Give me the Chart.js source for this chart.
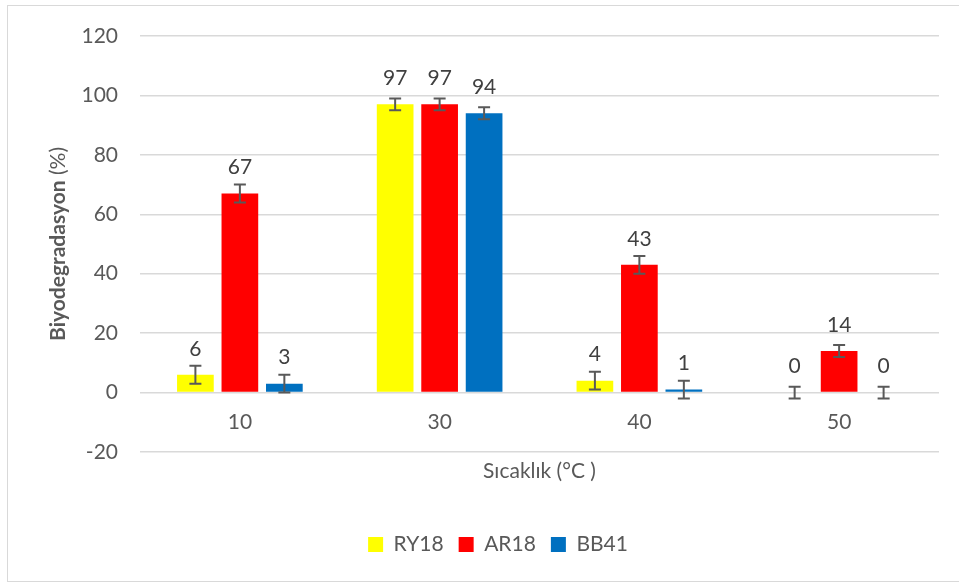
<!DOCTYPE html>
<html>
<head>
<meta charset="utf-8">
<script src="https://cdn.jsdelivr.net/npm/chart.js@4.4.1/dist/chart.umd.min.js"></script>
<style>
    html, body { margin: 0; padding: 0; background: #ffffff; overflow: hidden; }
    #frame { position: absolute; left: 7px; top: 5px; width: 966px; height: 575px; border: 1px solid #d9d9d9; }
</style>
</head>
<body>
<div id="frame"><canvas id="chart" width="966" height="575"></canvas></div>
<script>
const categories = ['10', '30', '40', '50'];
const ry18 = [6, 97, 4, 0];
const ar18 = [67, 97, 43, 14];
const bb41 = [3, 94, 1, 0];
const ry18Err = [3, 2, 3, 2];
const ar18Err = [3, 2, 3, 2];
const bb41Err = [3, 2, 3, 2];
const yMin = -20;
const yMax = 120;
const yStep = 20;
const xTitle = 'Sıcaklık (°C )';
const yTitleBold = 'Biyodegradasyon';
const yTitleRest = ' (%)';

const FONT = 'Lato, "Open Sans", sans-serif';
const SIZE = 21;
const TEXT = '#595959';

// error bars, value labels and category labels (Excel puts those next to the 0 line)
const barExtras = {
    id: 'barExtras',
    afterDatasetsDraw(chart) {
        const { ctx } = chart;
        const x = chart.scales.x;
        const y = chart.scales.y;

        chart.data.datasets.forEach((ds, i) => {
            const meta = chart.getDatasetMeta(i);

            meta.data.forEach((bar, j) => {
                const v = ds.data[j];
                const e = ds.errors[j];
                const top = y.getPixelForValue(v + e);
                const bottom = y.getPixelForValue(v - e);

                ctx.save();
                ctx.strokeStyle = '#595959';
                ctx.lineWidth = 2;
                ctx.beginPath();
                ctx.moveTo(bar.x, top);
                ctx.lineTo(bar.x, bottom);
                ctx.moveTo(bar.x - 6, top);
                ctx.lineTo(bar.x + 6, top);
                ctx.moveTo(bar.x - 6, bottom);
                ctx.lineTo(bar.x + 6, bottom);
                ctx.stroke();

                ctx.fillStyle = '#404040';
                ctx.font = SIZE + 'px ' + FONT;
                ctx.textAlign = 'center';
                ctx.textBaseline = 'middle';
                ctx.fillText(String(v), bar.x, y.getPixelForValue(v) - 26);
                ctx.restore();
            });
        });

        ctx.save();
        ctx.fillStyle = TEXT;
        ctx.font = SIZE + 'px ' + FONT;
        ctx.textAlign = 'center';
        ctx.textBaseline = 'middle';
        categories.forEach((c, i) => {
            ctx.fillText(c, x.getPixelForValue(i), y.getPixelForValue(0) + 30);
        });
        ctx.restore();
    },
};

// y title with bold word + regular "(%)"
const yTitle = {
    id: 'yTitle',
    afterDraw(chart) {
        const { ctx, chartArea } = chart;
        const cy = (chartArea.top + chartArea.bottom) / 2;
        const cx = chartArea.left - 82;

        ctx.save();
        ctx.translate(cx, cy);
        ctx.rotate(-Math.PI / 2);
        ctx.textBaseline = 'middle';
        ctx.textAlign = 'left';
        ctx.fillStyle = TEXT;
        ctx.font = 'bold ' + SIZE + 'px ' + FONT;
        const w1 = ctx.measureText(yTitleBold).width;
        ctx.font = SIZE + 'px ' + FONT;
        const w2 = ctx.measureText(yTitleRest).width;
        const x0 = -(w1 + w2) / 2;
        ctx.font = 'bold ' + SIZE + 'px ' + FONT;
        ctx.fillText(yTitleBold, x0, 0);
        ctx.font = SIZE + 'px ' + FONT;
        ctx.fillText(yTitleRest, x0 + w1, 0);
        ctx.restore();
    },
};

new Chart(document.getElementById('chart'), {
    type: 'bar',
    data: {
        labels: categories,
        datasets: [
            { label: 'RY18', data: ry18, errors: ry18Err, backgroundColor: '#ffff00' },
            { label: 'AR18', data: ar18, errors: ar18Err, backgroundColor: '#ff0000' },
            { label: 'BB41', data: bb41, errors: bb41Err, backgroundColor: '#0070c0' },
        ],
    },
    options: {
        responsive: false,
        animation: false,
        categoryPercentage: 0.668,
        barPercentage: 0.825,
        layout: {
            padding: { top: 30, right: 35, bottom: 16, left: 49 },
        },
        plugins: {
            legend: {
                position: 'bottom',
                labels: {
                    color: TEXT,
                    boxWidth: 15,
                    boxHeight: 15,
                    padding: 15,
                    font: { family: FONT, size: SIZE },
                },
            },
            tooltip: { enabled: false },
        },
        scales: {
            x: {
                grid: { display: false },
                border: { display: false },
                ticks: { display: false },
                title: {
                    display: true,
                    text: xTitle,
                    color: TEXT,
                    padding: { top: 0, bottom: 35 },
                    font: { family: FONT, size: SIZE },
                },
                afterFit(scale) {
                    scale.height = 67;
                },
            },
            y: {
                min: yMin,
                max: yMax,
                grid: {
                    color: '#d9d9d9',
                    lineWidth: 1.5,
                    drawTicks: false,
                },
                border: { display: false },
                ticks: {
                    stepSize: yStep,
                    color: TEXT,
                    padding: 22,
                    font: { family: FONT, size: SIZE },
                },
                afterFit(scale) {
                    scale.width = 83;
                    // tick padding would otherwise push the plot top down
                    scale.paddingTop = 0;
                    scale.paddingBottom = 0;
                },
            },
        },
    },
    plugins: [barExtras, yTitle],
});
</script>
</body>
</html>
